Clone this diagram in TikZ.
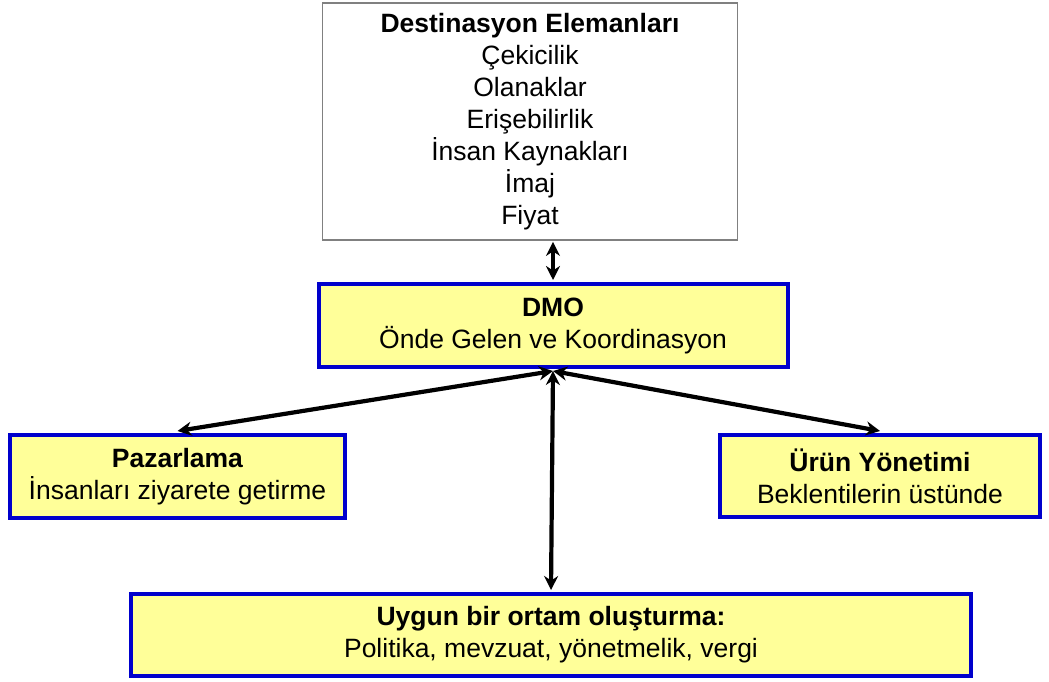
\documentclass[tikz,border=0pt]{standalone}
\usepackage{fontspec}
\setmainfont{Liberation Sans}
\usetikzlibrary{arrows.meta}
\definecolor{boxfill}{HTML}{FFFF99}
\definecolor{boxline}{HTML}{0000CC}
\definecolor{frameline}{HTML}{808080}
\tikzset{
  every node/.style={font=\fontsize{26.5}{32}\selectfont, align=center, inner sep=0pt},
  plainbox/.style={draw=frameline, line width=1.8pt, fill=white},
  keybox/.style={draw=boxline, line width=4pt, fill=boxfill},
  link/.style={line width=4.2pt, {Stealth[length=14pt,width=14pt]}-{Stealth[length=14pt,width=14pt]}},
}
\begin{document}
\begin{tikzpicture}[x=1pt, y=-1pt]
  \useasboundingbox (0,0) rectangle (1049,682);

  % element list at the top
  \node[plainbox, minimum width=415pt, minimum height=237pt] (elem) at (530,121.5)
    {\textbf{Destinasyon Elemanları}\\Çekicilik\\Olanaklar\\Erişebilirlik\\İnsan Kaynakları\\İmaj\\Fiyat};

  % central organisation
  \node[keybox, minimum width=469pt, minimum height=83pt] (dmo) at (553,325.5)
    {\textbf{DMO}\\Önde Gelen ve Koordinasyon};

  % side functions
  \node[keybox, minimum width=335pt, minimum height=83pt] (pazar) at (177.5,476.5)
    {\textbf{Pazarlama}\\İnsanları ziyarete getirme};
  \node[keybox, minimum width=320pt, minimum height=82pt] (urun) at (880,476)
    {\textbf{Ürün Yönetimi}\\Beklentilerin üstünde};

  % enabling environment
  \node[keybox, minimum width=840pt, minimum height=82pt] (ortam) at (551,635)
    {\textbf{Uygun bir ortam oluşturma:}\\Politika, mevzuat, yönetmelik, vergi};

  % connectors
  \coordinate (elemfoot) at (dmo.north |- elem.south);
  \draw[link] ([yshift=-1pt]elemfoot) -- ([yshift=2pt]dmo.north);
  \draw[link] ([yshift=-2pt]dmo.south) -- ([yshift=2pt]pazar.north);
  \draw[link] ([yshift=-2pt]dmo.south) -- ([yshift=2pt]urun.north);
  \draw[link] ([yshift=-2pt]dmo.south) -- ([yshift=2pt]ortam.north);
\end{tikzpicture}
\end{document}
